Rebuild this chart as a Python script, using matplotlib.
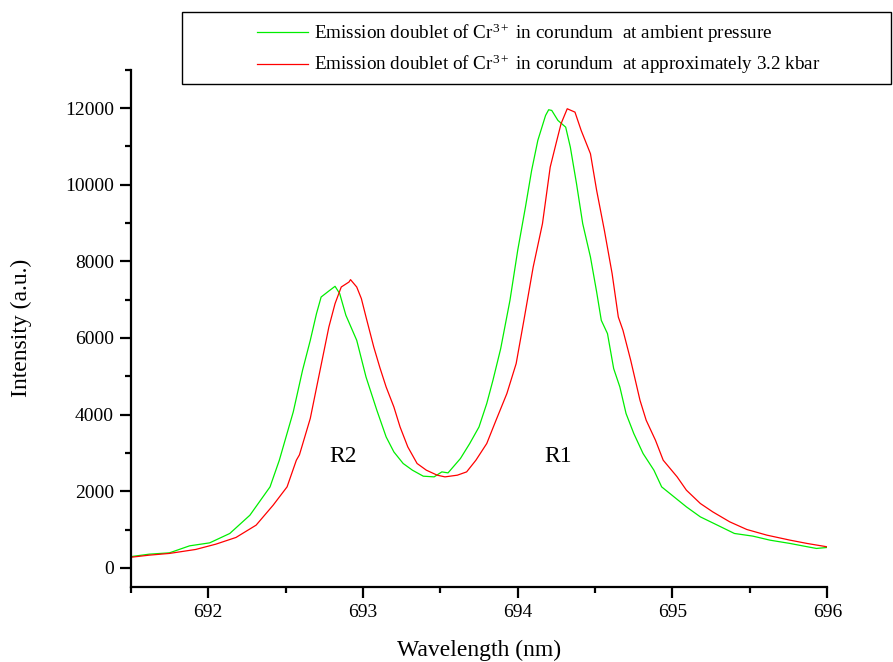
import matplotlib
matplotlib.use("Agg")
import matplotlib.pyplot as plt
import matplotlib.ticker as ticker
from matplotlib.patches import Rectangle

plt.rcParams['font.family'] = ['Liberation Serif', 'DejaVu Serif']
plt.rcParams['mathtext.fontset'] = 'custom'
plt.rcParams['mathtext.rm'] = 'Liberation Serif'
plt.rcParams['mathtext.it'] = 'Liberation Serif:italic'

# ruby R-lines, ambient pressure
wl_ambient = [691.49, 691.62, 691.75, 691.88, 692.01, 692.14, 692.27, 692.40,
              692.46, 692.55, 692.61, 692.66, 692.70, 692.73, 692.78, 692.82,
              692.85, 692.89, 692.96, 693.02, 693.09, 693.15, 693.20, 693.26,
              693.32, 693.39, 693.46, 693.51, 693.55, 693.63, 693.69, 693.75,
              693.80, 693.84, 693.89, 693.95, 694.00, 694.05, 694.09, 694.13,
              694.18, 694.20, 694.22, 694.26, 694.31, 694.34, 694.38, 694.42,
              694.47, 694.51, 694.54, 694.58, 694.62, 694.66, 694.70, 694.75,
              694.81, 694.88, 694.93, 695.01, 695.09, 695.18, 695.29, 695.40,
              695.52, 695.63, 695.76, 695.85, 695.93, 696.00]
int_ambient = [287, 357, 391, 574, 652, 897, 1374, 2113,
               2809, 4070, 5156, 5938, 6634, 7068, 7225, 7347,
               7157, 6591, 5938, 4981, 4113, 3417, 3025, 2723,
               2548, 2392, 2374, 2504, 2478, 2853, 3244, 3677,
               4288, 4895, 5720, 6982, 8286, 9415, 10372, 11155,
               11806, 11955, 11937, 11676, 11501, 10980, 10025, 8982,
               8111, 7200, 6460, 6113, 5200, 4720, 4027, 3505,
               2983, 2548, 2113, 1852, 1591, 1330, 1114, 897,
               827, 722, 636, 566, 506, 532]

# ruby R-lines, ~3.2 kbar
wl_pressure = [691.49, 691.62, 691.75, 691.92, 692.05, 692.18, 692.31, 692.42,
               692.51, 692.57, 692.59, 692.66, 692.71, 692.78, 692.82, 692.86,
               692.91, 692.92, 692.96, 692.99, 693.02, 693.07, 693.11, 693.15,
               693.20, 693.24, 693.29, 693.35, 693.41, 693.48, 693.53, 693.61,
               693.67, 693.73, 693.80, 693.86, 693.93, 693.99, 694.04, 694.10,
               694.16, 694.21, 694.25, 694.28, 694.32, 694.37, 694.41, 694.47,
               694.51, 694.56, 694.61, 694.65, 694.68, 694.73, 694.75, 694.79,
               694.83, 694.89, 694.94, 695.03, 695.09, 695.18, 695.26, 695.37,
               695.48, 695.61, 695.76, 695.87, 696.00]
int_pressure = [271, 331, 376, 480, 618, 793, 1114, 1635,
                2113, 2809, 2950, 3900, 4895, 6285, 6896, 7329,
                7459, 7521, 7329, 7026, 6546, 5764, 5220, 4720,
                4199, 3677, 3156, 2723, 2548, 2418, 2374, 2418,
                2504, 2809, 3244, 3852, 4548, 5330, 6460, 7850,
                8982, 10458, 11110, 11590, 11981, 11893, 11415, 10807,
                9850, 8807, 7678, 6546, 6200, 5417, 5070, 4374,
                3852, 3330, 2809, 2374, 2026, 1679, 1461, 1200,
                1001, 853, 722, 636, 548]

labels = [r"Emission doublet of Cr$^{3+}$ in corundum  at ambient pressure",
          r"Emission doublet of Cr$^{3+}$ in corundum  at approximately 3.2 kbar"]

fig = plt.figure(figsize=(8.93, 6.62), dpi=100)
ax = fig.add_axes([0.1464, 0.1133, 0.78, 0.7814])

ax.plot(wl_ambient, int_ambient, color='#00ee00', lw=0.9, label=labels[0])
ax.plot(wl_pressure, int_pressure, color='#ff0000', lw=0.9, label=labels[1])

ax.text(692.87, 2900, "R2", fontsize=17, ha='center', va='center')
ax.text(694.26, 2900, "R1", fontsize=17, ha='center', va='center')

ax.set_xlim(691.5, 696)
ax.set_ylim(-500, 13000)
for side in ('top', 'right'):
    ax.spines[side].set_visible(False)
for side in ('left', 'bottom'):
    ax.spines[side].set_linewidth(1.6)

ax.xaxis.set_major_locator(ticker.MultipleLocator(1))
ax.xaxis.set_minor_locator(ticker.MultipleLocator(0.5))
ax.xaxis.set_major_formatter(ticker.FormatStrFormatter("%d"))
ax.yaxis.set_major_locator(ticker.MultipleLocator(2000))
ax.yaxis.set_minor_locator(ticker.MultipleLocator(1000))
ax.yaxis.set_major_formatter(ticker.FormatStrFormatter("%d"))
ax.tick_params(which='major', direction='out', length=8, width=1.6, labelsize=14, pad=4)
ax.tick_params(which='minor', direction='out', length=4, width=1.6)

ax.set_xlabel("Wavelength (nm)", fontsize=17, labelpad=14)
ax.set_ylabel("Intensity (a.u.)", fontsize=17, labelpad=24)

# legend frame spans past the axes, drawn in figure coordinates
fig.patches.append(Rectangle((182 / 893, 1 - 84 / 662), (891 - 182) / 893, 72 / 662,
                             transform=fig.transFigure, fill=False,
                             edgecolor='black', lw=1.0))
fig.legend(loc='center left', bbox_to_anchor=(247 / 893, 1 - 49 / 662),
           frameon=False, fontsize=13.8, handlelength=2.7, handletextpad=0.3,
           labelspacing=0.4, borderpad=0)

plt.savefig("out.png", dpi=100)
